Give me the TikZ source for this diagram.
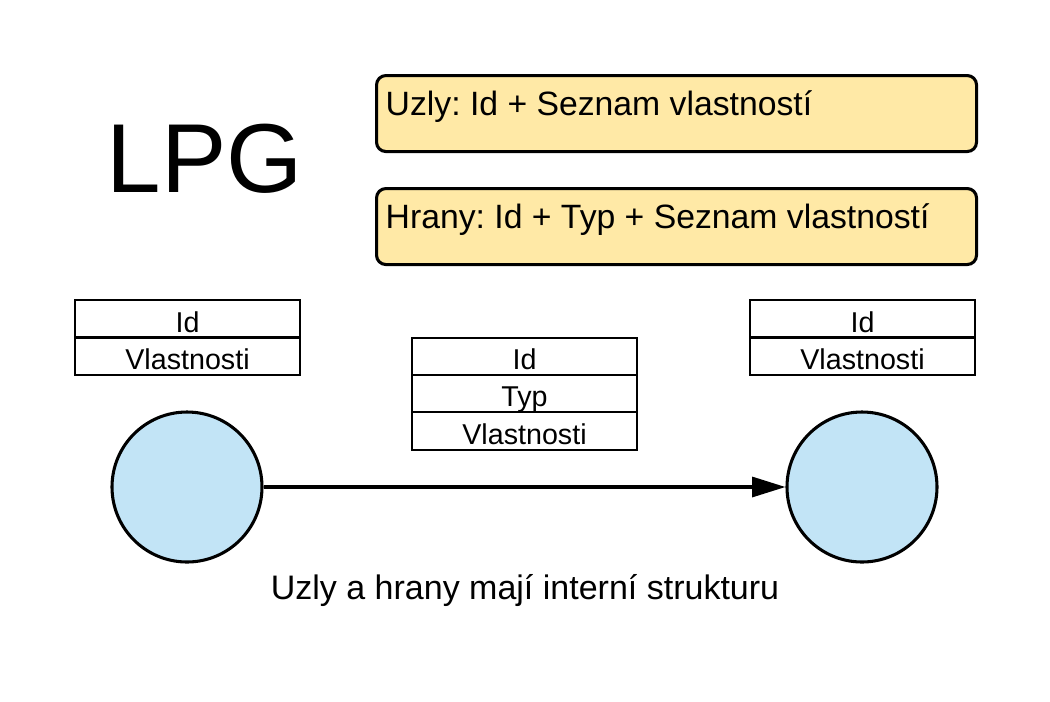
\documentclass[tikz,border=0pt]{standalone}
\usepackage{fontspec}
\setmainfont{Liberation Sans}
\usetikzlibrary{arrows.meta}
\definecolor{boxyellow}{HTML}{FFE9A6}
\definecolor{nodeblue}{HTML}{C2E4F6}
\tikzset{
  note/.style={draw=black, line width=2.3pt, fill=boxyellow, rounded corners=7pt, minimum width=450pt, minimum height=57pt, anchor=north west, inner sep=0pt},
  notetext/.style={anchor=west, font=\fontsize{25.3}{30}\selectfont},
  cell/.style={draw=black, line width=1.4pt, minimum width=168.75pt, minimum height=28pt, inner sep=0pt, text height=20pt, text depth=0pt, font=\fontsize{21.5}{24}\selectfont},
  vertex/.style={circle, draw=black, line width=2.3pt, fill=nodeblue, minimum size=112.5pt, inner sep=0pt},
}
\frenchspacing
\begin{document}
\begin{tikzpicture}[x=0.75pt,y=-0.75pt]
\useasboundingbox (0,0) rectangle (1050,701);
\node[font=\fontsize{73.5}{78}\selectfont] (lpg) at (205,159) {LPG};
\node[note] (n1) at (375,74) {};
\node[notetext] (t1) at (381,107) {Uzly: Id + Seznam vlastností};
\node[note] (n2) at (375,187) {};
\node[notetext] (t2) at (381,220) {Hrany: Id + Typ + Seznam vlastností};
% left table
\node[cell] (l1) at (187.5,318.75) {Id};
\node[cell] (l2) at (187.5,356.25) {Vlastnosti};
% middle table
\node[cell] (m1) at (524.5,356.5) {Id};
\node[cell] (m2) at (524.5,393.5) {Typ};
\node[cell] (m3) at (524.5,431) {Vlastnosti};
% right table
\node[cell] (r1) at (862.5,318.75) {Id};
\node[cell] (r2) at (862.5,356.25) {Vlastnosti};
\node[vertex] (a) at (187,487) {};
\node[vertex] (b) at (862,487) {};
\draw[line width=2.3pt, -{Triangle[length=25pt,width=15pt]}] (a.east) -- (b.west);
\node[font=\fontsize{25.5}{30}\selectfont] (cap) at (525,590) {Uzly a hrany mají interní strukturu};
\end{tikzpicture}
\end{document}
